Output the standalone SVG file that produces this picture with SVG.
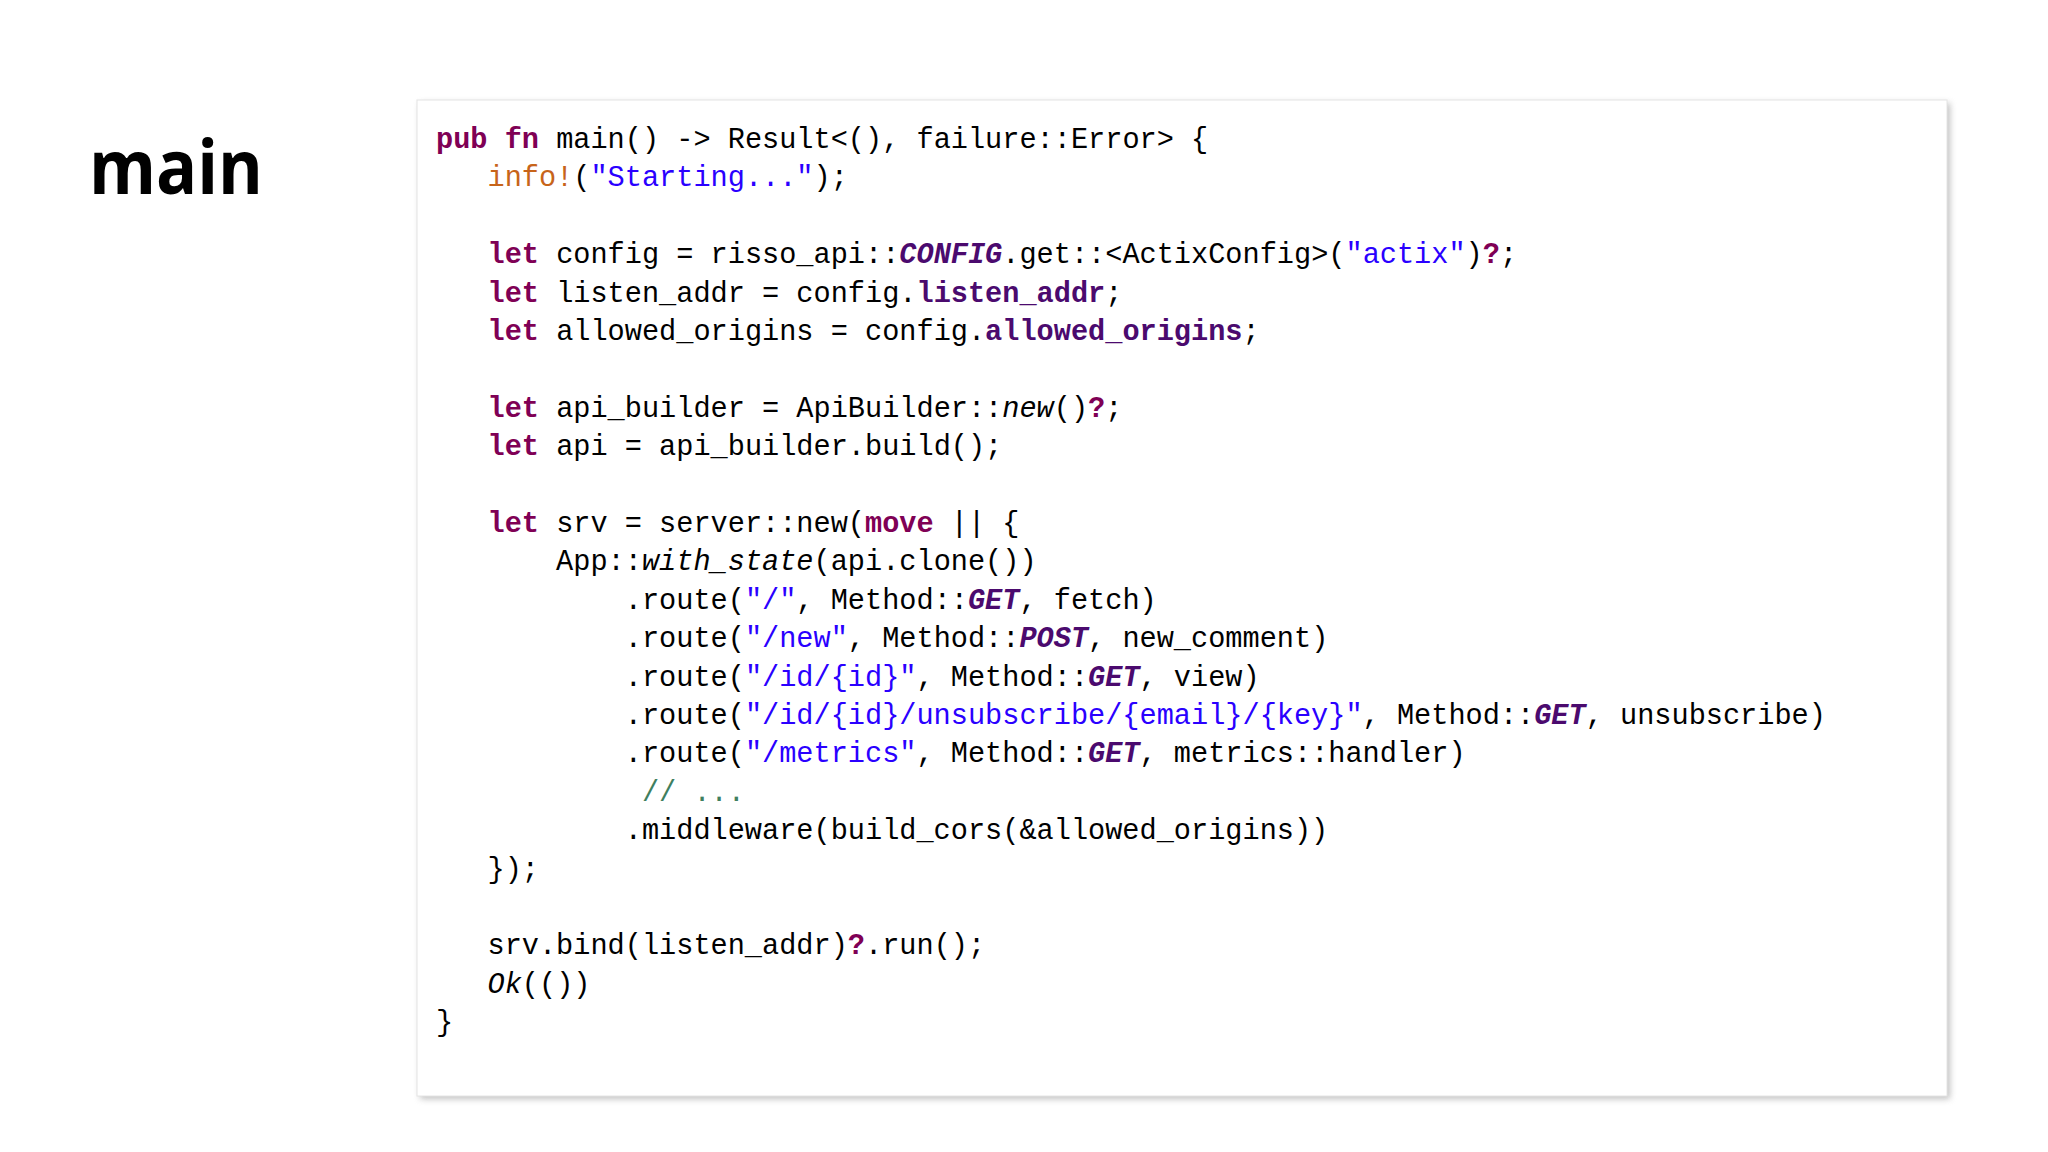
<svg xmlns="http://www.w3.org/2000/svg" width="2048" height="1152" viewBox="0 0 2048 1152">
<defs>
<filter id="sh" x="-5%" y="-5%" width="110%" height="110%"><feGaussianBlur stdDeviation="3"/></filter>
<style>
.c{font-family:"Liberation Mono","DejaVu Sans Mono",monospace;font-size:28.6px;fill:#000;white-space:pre}
.k{fill:#7f0055;font-weight:bold}
.s{fill:#2a00ff}
.m{fill:#c7641a}
.b{fill:#4b0a6e;font-weight:bold}
.i{font-style:italic}
.bi{fill:#4b0a6e;font-weight:bold;font-style:italic}
.g{fill:#3f7f5f}
</style>
</defs>
<rect width="2048" height="1152" fill="#fff"/>
<g id="title"><text x="89" y="194" font-family="'Open Sans','Noto Sans',sans-serif" font-weight="bold" font-size="76" fill="#000" textLength="174" lengthAdjust="spacingAndGlyphs">main</text></g>
<g id="codebox">
<rect x="420" y="103" width="1530" height="996" fill="#999" opacity="0.6" filter="url(#sh)"/>
<rect x="417" y="100" width="1530" height="996" fill="#fff" stroke="#e4e4e4"/>
<g xml:space="preserve">
<text class="c" x="436" y="148"><tspan class="k">pub fn</tspan> main() -&gt; Result&lt;(), failure::Error&gt; {</text>
<text class="c" x="436" y="186.4">   <tspan class="m">info!</tspan>(<tspan class="s">"Starting..."</tspan>);</text>
<text class="c" x="436" y="263.2">   <tspan class="k">let</tspan> config = risso_api::<tspan class="bi">CONFIG</tspan>.get::&lt;ActixConfig&gt;(<tspan class="s">"actix"</tspan>)<tspan class="k">?</tspan>;</text>
<text class="c" x="436" y="301.6">   <tspan class="k">let</tspan> listen_addr = config.<tspan class="b">listen_addr</tspan>;</text>
<text class="c" x="436" y="340">   <tspan class="k">let</tspan> allowed_origins = config.<tspan class="b">allowed_origins</tspan>;</text>
<text class="c" x="436" y="416.8">   <tspan class="k">let</tspan> api_builder = ApiBuilder::<tspan class="i">new</tspan>()<tspan class="k">?</tspan>;</text>
<text class="c" x="436" y="455.2">   <tspan class="k">let</tspan> api = api_builder.build();</text>
<text class="c" x="436" y="532">   <tspan class="k">let</tspan> srv = server::new(<tspan class="k">move</tspan> || {</text>
<text class="c" x="436" y="570.4">       App::<tspan class="i">with_state</tspan>(api.clone())</text>
<text class="c" x="436" y="608.8">           .route(<tspan class="s">"/"</tspan>, Method::<tspan class="bi">GET</tspan>, fetch)</text>
<text class="c" x="436" y="647.2">           .route(<tspan class="s">"/new"</tspan>, Method::<tspan class="bi">POST</tspan>, new_comment)</text>
<text class="c" x="436" y="685.6">           .route(<tspan class="s">"/id/{id}"</tspan>, Method::<tspan class="bi">GET</tspan>, view)</text>
<text class="c" x="436" y="724">           .route(<tspan class="s">"/id/{id}/unsubscribe/{email}/{key}"</tspan>, Method::<tspan class="bi">GET</tspan>, unsubscribe)</text>
<text class="c" x="436" y="762.4">           .route(<tspan class="s">"/metrics"</tspan>, Method::<tspan class="bi">GET</tspan>, metrics::handler)</text>
<text class="c" x="436" y="800.8">            <tspan class="g">// ...</tspan></text>
<text class="c" x="436" y="839.2">           .middleware(build_cors(&amp;allowed_origins))</text>
<text class="c" x="436" y="877.6">   });</text>
<text class="c" x="436" y="954.4">   srv.bind(listen_addr)<tspan class="k">?</tspan>.run();</text>
<text class="c" x="436" y="992.8">   <tspan class="i">Ok</tspan>(())</text>
<text class="c" x="436" y="1031.2">}</text>
</g>
</g>
</svg>
